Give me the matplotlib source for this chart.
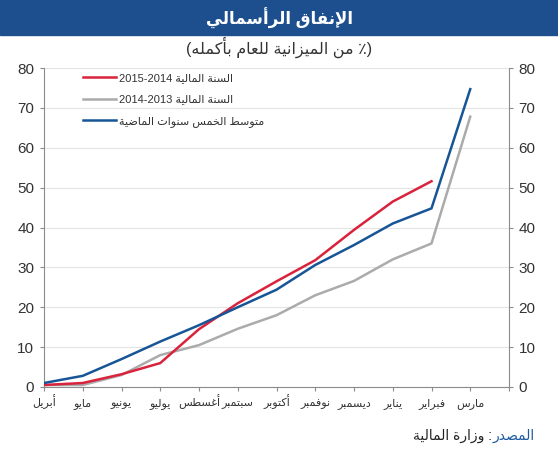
import re
import matplotlib
matplotlib.use('Agg')
import matplotlib.pyplot as plt
from matplotlib.patches import Rectangle

plt.rcParams['font.family'] = ['Liberation Sans', 'DejaVu Sans']

# data: fiscal year April -> March, cumulative % of annual budget
months = ['أبريل', 'مايو', 'يونيو', 'يوليو', 'أغسطس', 'سبتمبر',
          'أكتوبر', 'نوفمبر', 'ديسمبر', 'يناير', 'فبراير', 'مارس']
fy_2015 = [0.5, 1.0, 3.2, 6.0, 14.5, 21.0, 26.5, 31.8, 39.4, 46.5, 51.6]
fy_2014 = [0.5, 0.5, 3.0, 8.0, 10.5, 14.6, 18.0, 23.0, 26.6, 32.0, 36.0, 67.8]
avg_5y = [1.0, 2.8, 7.0, 11.4, 15.5, 20.0, 24.4, 30.6, 35.6, 41.0, 44.8, 74.7]

title = 'الإنفاق الرأسمالي'
subtitle = '(٪ من الميزانية للعام بأكمله)'
label_2015 = 'السنة المالية 2015-2014'
label_2014 = 'السنة المالية 2014-2013'
label_avg = 'متوسط الخمس سنوات الماضية'
source_head = 'المصدر'
source_body = ': وزارة المالية'

# minimal arabic shaping (presentation forms) + right-to-left ordering
DUAL = {'ب': 0xFE8F, 'ت': 0xFE95, 'ث': 0xFE99, 'ج': 0xFE9D, 'ح': 0xFEA1, 'خ': 0xFEA5,
        'س': 0xFEB1, 'ش': 0xFEB5, 'ص': 0xFEB9, 'ض': 0xFEBD, 'ط': 0xFEC1, 'ظ': 0xFEC5,
        'ع': 0xFEC9, 'غ': 0xFECD, 'ف': 0xFED1, 'ق': 0xFED5, 'ك': 0xFED9, 'ل': 0xFEDD,
        'م': 0xFEE1, 'ن': 0xFEE5, 'ه': 0xFEE9, 'ي': 0xFEF1}
RIGHT = {'ا': 0xFE8D, 'أ': 0xFE83, 'إ': 0xFE87, 'آ': 0xFE81, 'د': 0xFEA9, 'ذ': 0xFEAB,
         'ر': 0xFEAD, 'ز': 0xFEAF, 'و': 0xFEED, 'ة': 0xFE93, 'ى': 0xFEEF}
LAM_ALEF = {'ا': 0xFEFB, 'أ': 0xFEF7, 'إ': 0xFEF9, 'آ': 0xFEF5}


def shape(s):
    out = []
    i = 0
    while i < len(s):
        c = s[i]
        joins_prev = i > 0 and s[i - 1] in DUAL
        nxt = s[i + 1] if i + 1 < len(s) else ''
        if c == 'ل' and nxt in LAM_ALEF:
            out.append(chr(LAM_ALEF[nxt] + (1 if joins_prev else 0)))
            i += 2
            continue
        if c in DUAL:
            joins_next = nxt in DUAL or nxt in RIGHT
            base = DUAL[c]
            if joins_prev and joins_next:
                out.append(chr(base + 3))
            elif joins_prev:
                out.append(chr(base + 1))
            elif joins_next:
                out.append(chr(base + 2))
            else:
                out.append(chr(base))
        elif c in RIGHT:
            out.append(chr(RIGHT[c] + (1 if joins_prev else 0)))
        else:
            out.append(c)
        i += 1
    return ''.join(out)


def ar(s):
    parts = re.split(r'([0-9][0-9\-]*[0-9])', shape(s))
    mirror = {'(': ')', ')': '('}
    vis = []
    for p in reversed(parts):
        if re.fullmatch(r'[0-9][0-9\-]*[0-9]', p):
            vis.append(p)
        else:
            vis.append(''.join(mirror.get(ch, ch) for ch in reversed(p)))
    return ''.join(vis)


fig = plt.figure(figsize=(5.58, 4.5), dpi=100)

# title band
fig.patches.append(Rectangle((0, 1 - 35 / 450), 1, 35 / 450, transform=fig.transFigure,
                             color='#1d4f8f', zorder=0))
fig.text(0.5, 1 - 18 / 450, ar(title), ha='center', va='center', color='white',
         fontsize=12, fontweight='bold')
fig.text(0.5, 1 - 47 / 450, ar(subtitle), ha='center', va='center', color='#333333',
         fontsize=11.5)

ax = fig.add_axes([44 / 558, 1 - 387 / 450, 465 / 558, 319 / 450])

x = list(range(12))
ax.plot(x[:len(fy_2015)], fy_2015, color='#d9223c', lw=1.8, label=ar(label_2015), zorder=3)
ax.plot(x, fy_2014, color='#ababab', lw=1.8, label=ar(label_2014), zorder=2)
ax.plot(x, avg_5y, color='#175597', lw=1.8, label=ar(label_avg), zorder=4)

ax.set_xlim(0, 12)
ax.set_ylim(0, 80)
ax.set_yticks(range(0, 81, 10))
ax.set_xticks(range(13))
ax.set_xticklabels([ar(m) for m in months] + [''], fontsize=8, color='#333333')
plt.setp(ax.get_xticklabels(), va='baseline')
ax.grid(axis='y', color='#e4e4e4', lw=0.8)
ax.set_axisbelow(True)

for side in ['left', 'right', 'bottom']:
    ax.spines[side].set_color('#8c8c8c')
ax.spines['top'].set_visible(False)

ax.tick_params(axis='y', which='both', left=True, right=True, labelleft=True, labelright=True,
               direction='out', length=3, color='#8c8c8c', labelsize=11, labelcolor='#333333', pad=4)
ax.tick_params(axis='x', direction='out', length=3, color='#8c8c8c', pad=11)

leg = ax.legend(loc='upper left', bbox_to_anchor=(0.084, 0.985), frameon=False, fontsize=8,
                handlelength=3.0, handletextpad=0.2, labelspacing=1.05,
                borderpad=0, borderaxespad=0)
for t in leg.get_texts():
    t.set_color('#333333')

src = fig.text(0.958, 1 - 436 / 450, ar(source_head), ha='right', va='center',
               color='#1d5aa0', fontsize=10)
ax.annotate(ar(source_body), xy=(0, 0.5), xycoords=src, ha='right', va='center',
            fontsize=10, color='#222222', annotation_clip=False)

plt.savefig('out.png', dpi=100)
